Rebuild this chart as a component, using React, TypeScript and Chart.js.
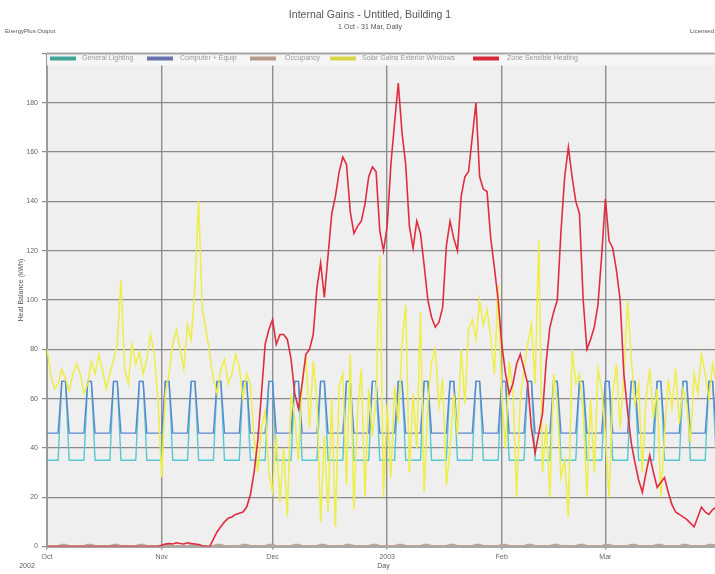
import React, { useEffect, useRef } from "react";
import { Chart, registerables } from "chart.js";

Chart.register(...registerables);

// ---- Data (daily values, 1 Oct 2002 .. 31 Mar 2003; index = day number) ----
const monthTickDays = [0, 31, 61, 92, 123, 151];
const monthTickLabels = ["Oct", "Nov", "Dec", "2003", "Feb", "Mar"];
const seriesNames = [
  "General Lighting",
  "Computer + Equip",
  "Occupancy",
  "Solar Gains Exterior Windows",
  "Zone Sensible Heating",
];

// weeks start on Tuesday 1 Oct 2002 (Tue..Mon)
const generalLighting = [
  35, 35, 35, 35, 67, 67, 35,
  35, 35, 35, 35, 67, 67, 35,
  35, 35, 35, 35, 67, 67, 35,
  35, 35, 35, 35, 67, 67, 35,
  35, 35, 35, 35, 67, 67, 35,
  35, 35, 35, 35, 67, 67, 35,
  35, 35, 35, 35, 67, 67, 35,
  35, 35, 35, 35, 67, 67, 35,
  35, 35, 35, 35, 67, 67, 35,
  35, 35, 35, 35, 67, 67, 35,
  35, 35, 35, 35, 67, 67, 35,
  35, 35, 35, 35, 67, 67, 35,
  35, 35, 35, 35, 67, 67, 35,
  35, 35, 35, 35, 67, 67, 35,
  35, 35, 35, 35, 67, 67, 35,
  35, 35, 35, 35, 67, 67, 35,
  35, 35, 35, 35, 67, 67, 35,
  35, 35, 35, 35, 67, 67, 35,
  35, 35, 35, 35, 67, 67, 35,
  35, 35, 35, 35, 67, 67, 35,
  35, 35, 35, 35, 67, 67, 35,
  35, 35, 35, 35, 67, 67, 35,
  35, 35, 35, 35, 67, 67, 35,
  35, 35, 35, 35, 67, 67, 35,
  35, 35, 35, 35, 67, 67, 35,
  35, 35, 35, 35, 67, 67, 35,
];

const computerEquip = [
  46, 46, 46, 46, 67, 67, 46,
  46, 46, 46, 46, 67, 67, 46,
  46, 46, 46, 46, 67, 67, 46,
  46, 46, 46, 46, 67, 67, 46,
  46, 46, 46, 46, 67, 67, 46,
  46, 46, 46, 46, 67, 67, 46,
  46, 46, 46, 46, 67, 67, 46,
  46, 46, 46, 46, 67, 67, 46,
  46, 46, 46, 46, 67, 67, 46,
  46, 46, 46, 46, 67, 67, 46,
  46, 46, 46, 46, 67, 67, 46,
  46, 46, 46, 46, 67, 67, 46,
  46, 46, 46, 46, 67, 67, 46,
  46, 46, 46, 46, 67, 67, 46,
  46, 46, 46, 46, 67, 67, 46,
  46, 46, 46, 46, 67, 67, 46,
  46, 46, 46, 46, 67, 67, 46,
  46, 46, 46, 46, 67, 67, 46,
  46, 46, 46, 46, 67, 67, 46,
  46, 46, 46, 46, 67, 67, 46,
  46, 46, 46, 46, 67, 67, 46,
  46, 46, 46, 46, 67, 67, 46,
  46, 46, 46, 46, 67, 67, 46,
  46, 46, 46, 46, 67, 67, 46,
  46, 46, 46, 46, 67, 67, 46,
  46, 46, 46, 46, 67, 67, 46,
];

const occupancy = [
  0.4, 0.4, 0.4, 0.4, 0.9, 0.9, 0.4,
  0.4, 0.4, 0.4, 0.4, 0.9, 0.9, 0.4,
  0.4, 0.4, 0.4, 0.4, 0.9, 0.9, 0.4,
  0.4, 0.4, 0.4, 0.4, 0.9, 0.9, 0.4,
  0.4, 0.4, 0.4, 0.4, 0.9, 0.9, 0.4,
  0.4, 0.4, 0.4, 0.4, 0.9, 0.9, 0.4,
  0.4, 0.4, 0.4, 0.4, 0.9, 0.9, 0.4,
  0.4, 0.4, 0.4, 0.4, 0.9, 0.9, 0.4,
  0.4, 0.4, 0.4, 0.4, 0.9, 0.9, 0.4,
  0.4, 0.4, 0.4, 0.4, 0.9, 0.9, 0.4,
  0.4, 0.4, 0.4, 0.4, 0.9, 0.9, 0.4,
  0.4, 0.4, 0.4, 0.4, 0.9, 0.9, 0.4,
  0.4, 0.4, 0.4, 0.4, 0.9, 0.9, 0.4,
  0.4, 0.4, 0.4, 0.4, 0.9, 0.9, 0.4,
  0.4, 0.4, 0.4, 0.4, 0.9, 0.9, 0.4,
  0.4, 0.4, 0.4, 0.4, 0.9, 0.9, 0.4,
  0.4, 0.4, 0.4, 0.4, 0.9, 0.9, 0.4,
  0.4, 0.4, 0.4, 0.4, 0.9, 0.9, 0.4,
  0.4, 0.4, 0.4, 0.4, 0.9, 0.9, 0.4,
  0.4, 0.4, 0.4, 0.4, 0.9, 0.9, 0.4,
  0.4, 0.4, 0.4, 0.4, 0.9, 0.9, 0.4,
  0.4, 0.4, 0.4, 0.4, 0.9, 0.9, 0.4,
  0.4, 0.4, 0.4, 0.4, 0.9, 0.9, 0.4,
  0.4, 0.4, 0.4, 0.4, 0.9, 0.9, 0.4,
  0.4, 0.4, 0.4, 0.4, 0.9, 0.9, 0.4,
  0.4, 0.4, 0.4, 0.4, 0.9, 0.9, 0.4,
];

const solarGains = [
  80, 70, 64, 66, 72, 68, 63, 70, 74, 70,
  62, 66, 75, 70, 78, 72, 64, 70, 76, 82,
  108, 72, 66, 82, 74, 79, 70, 76, 86, 78,
  60, 28, 62, 70, 82, 88, 80, 72, 90, 84,
  105, 140, 96, 88, 78, 68, 62, 72, 76, 66,
  70, 78, 73, 60, 70, 66, 44, 30, 48, 55,
  30, 22, 45, 18, 40, 12, 62, 52, 35, 66,
  78, 48, 75, 60, 10, 45, 14, 60, 8, 65,
  70, 25, 78, 15, 55, 72, 20, 64, 45, 60,
  118, 20, 58, 28, 65, 50, 82, 98, 30, 62,
  40, 95, 22, 58, 75, 80, 57, 68, 25, 40,
  62, 45, 80, 58, 88, 92, 84, 100, 90, 96,
  85, 70, 106, 60, 40, 75, 64, 20, 60, 72,
  82, 90, 66, 124, 30, 50, 20, 70, 58, 28,
  35, 12, 80, 66, 70, 55, 20, 60, 30, 72,
  64, 45, 20, 62, 74, 48, 70, 100, 76, 58,
  66, 30, 60, 72, 52, 64, 20, 45, 68, 56,
  72, 50, 64, 58, 42, 70, 62, 78, 70, 60,
  74, 66,
];

const zoneHeating = [
  0, 0, 0, 0, 0, 0, 0, 0, 0, 0,
  0, 0, 0, 0, 0, 0, 0, 0, 0, 0,
  0, 0, 0, 0, 0, 0, 0, 0, 0, 0,
  0, 0.5, 1, 1.2, 1, 1.5, 1.2, 1, 1.5, 1.2,
  1, 0.8, 0.3, 0, 0, 3, 6, 8, 10, 11.5,
  12, 13, 13.5, 14, 16, 21, 30, 43, 62, 82,
  88, 92, 82, 86, 86, 84, 76, 62, 56, 66,
  78, 80, 86, 105, 115, 101, 118, 135, 142, 152,
  158, 155, 136, 127, 130, 132, 139, 150, 154, 152,
  128, 120, 130, 155, 172, 188, 168, 155, 130, 121,
  132, 127, 114, 100, 93, 89, 91, 97, 122, 132,
  125, 120, 142, 150, 152, 166, 180, 150, 145, 144,
  125, 113, 100, 82, 70, 62, 66, 74, 78, 72,
  66, 48, 38, 46, 54, 75, 89, 95, 100, 128,
  150, 162, 150, 140, 135, 100, 80, 84, 89, 98,
  118, 141, 124, 121, 112, 100, 70, 55, 42, 34,
  27, 22, 30, 37, 30, 24, 26, 28, 22, 17,
  14, 13, 12, 11, 9.5, 8, 12, 16, 14, 13,
  15, 16,
];

const lineColors = ["#56c8cf", "#5b86cf", "#c4a28e", "#eeee44", "#e22c3e"];
const swatchColors = ["#3fa597", "#6673b0", "#b89b8a", "#d6d64a", "#d6283a"];

const FONT = "'Liberation Sans', Arial, sans-serif";

const toPoints = (arr: number[]) => arr.map((v, i) => ({ x: i, y: v }));

const decorPlugin = {
  id: "decor",
  beforeDraw(chart: any) {
    const { ctx, chartArea, width, height } = chart;
    ctx.save();
    ctx.fillStyle = "#ffffff";
    ctx.fillRect(0, 0, width, height);
    ctx.fillStyle = "#efeff0";
    ctx.fillRect(chartArea.left, chartArea.top, chartArea.right - chartArea.left, chartArea.bottom - chartArea.top);
    ctx.restore();
  },
  afterDraw(chart: any) {
    const { ctx, chartArea } = chart;
    ctx.save();
    // legend strip inside plot top
    ctx.fillStyle = "#f6f6f6";
    ctx.fillRect(chartArea.left, chartArea.top, chartArea.right - chartArea.left, 12);
    ctx.strokeStyle = "#a6a6a6";
    ctx.lineWidth = 2;
    ctx.beginPath();
    ctx.moveTo(chartArea.left, chartArea.top);
    ctx.lineTo(chartArea.right, chartArea.top);
    ctx.stroke();
    const swatchX = [50, 147, 250, 330, 473];
    const textX = [82, 180, 285, 362, 507];
    const ly = chartArea.top + 5;
    ctx.font = `7px ${FONT}`;
    ctx.textBaseline = "middle";
    ctx.textAlign = "left";
    for (let i = 0; i < seriesNames.length; i++) {
      ctx.fillStyle = swatchColors[i];
      ctx.fillRect(swatchX[i], ly - 2, 26, 4);
      ctx.fillStyle = "#999";
      ctx.fillText(seriesNames[i], textX[i], ly);
    }
    // titles
    ctx.fillStyle = "#555";
    ctx.textAlign = "center";
    ctx.font = `10.5px ${FONT}`;
    ctx.fillText("Internal Gains - Untitled, Building 1", 370, 15);
    ctx.font = `7px ${FONT}`;
    ctx.fillText("1 Oct - 31 Mar, Daily", 370, 27);
    ctx.textAlign = "left";
    ctx.font = `6px ${FONT}`;
    ctx.fillText("EnergyPlus Output", 5, 31);
    ctx.fillText("Licensed to: DesignBuilder", 690, 31);
    // x-axis extras
    ctx.font = `7px ${FONT}`;
    ctx.textAlign = "center";
    ctx.fillText("2002", 27, 566);
    ctx.fillText("Day", (chartArea.left + chartArea.right) / 2, 566);
    // y-axis title
    ctx.translate(21, 290);
    ctx.rotate(-Math.PI / 2);
    ctx.fillText("Heat Balance (kWh)", 0, 0);
    ctx.restore();
  },
};

export default function App() {
  const canvasRef = useRef<HTMLCanvasElement | null>(null);

  useEffect(() => {
    if (!canvasRef.current) return;
    const datasets = [
      { label: seriesNames[0], data: toPoints(generalLighting), borderColor: lineColors[0], borderWidth: 1.4, order: 3 },
      { label: seriesNames[1], data: toPoints(computerEquip), borderColor: lineColors[1], borderWidth: 1.4, order: 2 },
      { label: seriesNames[2], data: toPoints(occupancy), borderColor: lineColors[2], borderWidth: 1.2, order: 4 },
      { label: seriesNames[3], data: toPoints(solarGains), borderColor: lineColors[3], borderWidth: 1.5, order: 1 },
      { label: seriesNames[4], data: toPoints(zoneHeating), borderColor: lineColors[4], borderWidth: 1.6, order: 0 },
    ].map((d) => ({ ...d, pointRadius: 0, fill: false, tension: 0 }));

    const chart = new Chart(canvasRef.current, {
      type: "line",
      data: { datasets },
      options: {
        animation: false,
        responsive: false,
        devicePixelRatio: 1,
        layout: { padding: { top: 53.5, right: 40, left: 0, bottom: 0 } },
        plugins: {
          legend: { display: false },
          tooltip: { enabled: false },
          title: { display: false },
        },
        scales: {
          x: {
            type: "linear",
            min: 0,
            max: 182,
            afterBuildTicks: (s: any) => {
              s.ticks = monthTickDays.map((v) => ({ value: v }));
            },
            afterFit: (s: any) => {
              s.height = 27.5;
            },
            ticks: {
              autoSkip: false,
              maxRotation: 0,
              padding: 3,
              color: "#666",
              font: { size: 7, family: FONT },
              callback: (_v: any, i: number) => monthTickLabels[i] ?? "",
            },
            grid: { color: "#8e8e8e", lineWidth: 1.4, tickLength: 3 },
            border: { color: "#a8a8a8", width: 3 },
          },
          y: {
            min: 0,
            max: 200,
            afterFit: (s: any) => {
              s.width = 47;
            },
            ticks: {
              stepSize: 20,
              padding: 4,
              color: "#666",
              font: { size: 7, family: FONT },
              callback: (v: any) => (v === 200 ? "" : String(v)),
            },
            grid: { color: "#8a8a8a", lineWidth: 1.2, tickLength: 5 },
            border: { color: "#9a9a9a", width: 2 },
          },
        },
      },
      plugins: [decorPlugin],
    } as any);
    return () => chart.destroy();
  }, []);

  return (
    <div style={{ position: "fixed", left: 0, top: 0, width: 715, height: 574, overflow: "hidden", background: "#fff" }}>
      <canvas ref={canvasRef} width={760} height={574} style={{ width: 760, height: 574, display: "block" }} />
    </div>
  );
}
